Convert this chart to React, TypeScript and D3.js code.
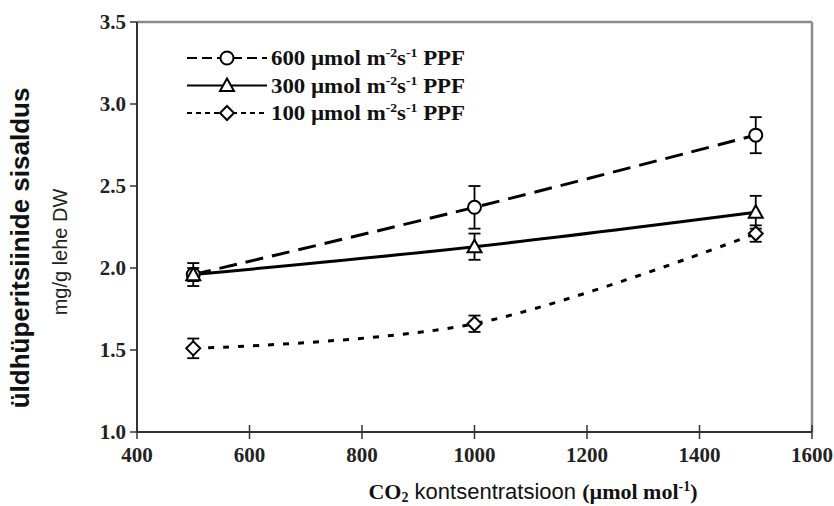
import React from "react";
import * as d3 from "d3";

const co2 = [500, 1000, 1500];
const ppf600 = [1.96, 2.37, 2.81];
const ppf600Err = [0.04, 0.13, 0.11];
const ppf300 = [1.96, 2.13, 2.34];
const ppf300Err = [0.07, 0.08, 0.1];
const ppf100 = [1.51, 1.66, 2.21];
const ppf100Err = [0.06, 0.05, 0.05];
const xTicks = [400, 600, 800, 1000, 1200, 1400, 1600];
const yTicks = [1.0, 1.5, 2.0, 2.5, 3.0, 3.5];
const legendLabels = ["600", "300", "100"];

const W = 834, H = 506;
const L = 137, R = 812, T = 22, B = 432;

export default function App() {
  const x = d3.scaleLinear().domain([400, 1600]).range([L, R]);
  const y = d3.scaleLinear().domain([1, 3.5]).range([B, T]);

  const series = [
    { vals: ppf600, err: ppf600Err, dash: "18,9", marker: "circle", curve: d3.curveCatmullRom.alpha(0.5) },
    { vals: ppf300, err: ppf300Err, dash: "", marker: "triangle", curve: d3.curveCatmullRom.alpha(0.5) },
    { vals: ppf100, err: ppf100Err, dash: "6,9", marker: "diamond", curve: d3.curveCatmullRom.alpha(0.5) },
  ];

  const marker = (kind: string, cx: number, cy: number, key?: string) => {
    const sw = 2;
    if (kind === "circle") return <circle key={key} cx={cx} cy={cy} r={6.5} fill="#fff" stroke="#000" strokeWidth={sw} />;
    if (kind === "triangle") {
      const s = 7;
      return <path key={key} d={`M${cx},${cy - s} L${cx + s},${cy + s * 0.8} L${cx - s},${cy + s * 0.8} Z`} fill="#fff" stroke="#000" strokeWidth={sw} />;
    }
    const s = 7;
    return <path key={key} d={`M${cx},${cy - s} L${cx + s},${cy} L${cx},${cy + s} L${cx - s},${cy} Z`} fill="#fff" stroke="#000" strokeWidth={sw} />;
  };

  const serif = "'Liberation Serif', 'Times New Roman', serif";
  const sans = "'Liberation Sans', Arial, sans-serif";

  return (
    <svg width={W} height={H} style={{ position: "absolute", left: 0, top: 0, background: "#fff" }}>
      <rect width={W} height={H} fill="#fff" />
      {/* frame */}
      <line x1={L} x2={R} y1={T} y2={T} stroke="#8a8a8a" strokeWidth={2.5} />
      <line x1={R} x2={R} y1={T} y2={B} stroke="#8a8a8a" strokeWidth={2.5} />
      <line x1={L} x2={L} y1={T} y2={B} stroke="#333" strokeWidth={2} />
      <line x1={L} x2={R} y1={B} y2={B} stroke="#333" strokeWidth={2} />
      {/* y ticks */}
      {yTicks.map((t) => (
        <g key={"y" + t}>
          <line x1={L - 7} x2={L} y1={y(t)} y2={y(t)} stroke="#333" strokeWidth={1.5} />
          <text x={L - 11} y={y(t)} dy="0.35em" textAnchor="end" fontFamily={serif} fontWeight="bold" fontSize={21} fill="#222">
            {d3.format(".1f")(t)}
          </text>
        </g>
      ))}
      {/* x ticks */}
      {xTicks.map((t) => (
        <g key={"x" + t}>
          <line x1={x(t)} x2={x(t)} y1={B - 7} y2={B + 7} stroke="#333" strokeWidth={1.5} />
          <text x={x(t)} y={B + 30} textAnchor="middle" fontFamily={serif} fontWeight="bold" fontSize={21} fill="#222">
            {t}
          </text>
        </g>
      ))}
      {/* series lines */}
      {series.map((s, i) => {
        const line = d3.line<number>().x((_, j) => x(co2[j])).y((v) => y(v)).curve(s.curve);
        return (
          <path key={"l" + i} d={line(s.vals) || ""} fill="none" stroke="#000" strokeWidth={3} strokeDasharray={s.dash} />
        );
      })}
      {/* error bars and markers */}
      {series.map((s, i) => (
        <g key={"m" + i}>
          {s.vals.map((v, j) => {
            const cx = x(co2[j]);
            const y1 = y(v + s.err[j]);
            const y2 = y(v - s.err[j]);
            return (
              <g key={j}>
                <line x1={cx} x2={cx} y1={y1} y2={y2} stroke="#000" strokeWidth={1.8} />
                <line x1={cx - 6} x2={cx + 6} y1={y1} y2={y1} stroke="#000" strokeWidth={1.8} />
                <line x1={cx - 6} x2={cx + 6} y1={y2} y2={y2} stroke="#000" strokeWidth={1.8} />
              </g>
            );
          })}
          {s.vals.map((v, j) => marker(s.marker, x(co2[j]), y(v), "mk" + j))}
        </g>
      ))}
      {/* legend */}
      {series.map((s, i) => {
        const ly = 58 + i * 27.5;
        return (
          <g key={"lg" + i}>
            <line x1={187} x2={267} y1={ly} y2={ly} stroke="#000" strokeWidth={2} strokeDasharray={s.dash ? (i === 0 ? "10,5" : "5,4") : ""} />
            {marker(s.marker, 227, ly)}
            <text x={271} y={ly} dy="0.35em" fontFamily={serif} fontWeight="bold" fontSize={20} fill="#111" textLength={194} lengthAdjust="spacingAndGlyphs">
              {legendLabels[i]} µmol m
              <tspan dy="-8" fontSize={12}>-2</tspan>
              <tspan dy="8">s</tspan>
              <tspan dy="-8" fontSize={12}>-1</tspan>
              <tspan dy="8"> PPF</tspan>
            </text>
          </g>
        );
      })}
      {/* y title */}
      <text transform={`translate(29,248) rotate(-90)`} textAnchor="middle" fontFamily={sans} fontWeight="bold" fontSize={26} fill="#111">
        üldhüperitsiinide sisaldus
      </text>
      <text transform={`translate(67,252) rotate(-90)`} textAnchor="middle" fontFamily={sans} fontSize={20} fill="#222">
        mg/g lehe DW
      </text>
      {/* x title */}
      <text x={533} y={499} textAnchor="middle" fontSize={22} fill="#111">
        <tspan fontFamily={serif} fontWeight="bold">CO</tspan>
        <tspan fontFamily={serif} fontWeight="bold" fontSize={14} dy="3">2</tspan>
        <tspan fontFamily={sans} dy="-3"> kontsentratsioon </tspan>
        <tspan fontFamily={serif} fontWeight="bold">(µmol mol</tspan>
        <tspan fontFamily={serif} fontWeight="bold" fontSize={14} dy="-8">-1</tspan>
        <tspan fontFamily={serif} fontWeight="bold" dy="8">)</tspan>
      </text>
    </svg>
  );
}
